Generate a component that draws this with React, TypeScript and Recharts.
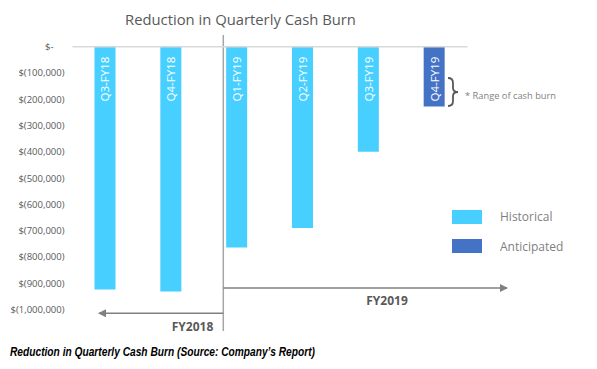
import React from "react";
import {
  Bar,
  BarChart,
  Customized,
  LabelList,
  Legend,
  ReferenceLine,
  XAxis,
  YAxis,
} from "recharts";

// values (negative = cash burned)
const quarters = ["Q3-FY18", "Q4-FY18", "Q1-FY19", "Q2-FY19", "Q3-FY19", "Q4-FY19"];
const historical = [-925000, -932000, -765000, -690000, -400000, null];
const anticipated = [null, null, null, null, null, -228000];
const yTicks = [
  0, -100000, -200000, -300000, -400000, -500000, -600000, -700000, -800000, -900000, -1000000,
];
const legendOrder = ["Historical", "Anticipated"];

const data = quarters.map((name, i) => ({
  name,
  historical: historical[i],
  anticipated: anticipated[i],
}));

const FONT = "'Open Sans', sans-serif";
const GREY = "#595959";

const fmtMoney = (v: number) =>
  v === 0 ? "$-" : `$(${Math.abs(v).toLocaleString("en-US")})`;

const YTick = (props: any) => {
  const { x, y, payload } = props;
  return (
    <text
      x={payload.value === 0 ? x - 11 : x}
      y={y}
      dy={3.5}
      textAnchor="end"
      fontSize={9.5}
      fontFamily={FONT}
      fill={GREY}
    >
      {fmtMoney(payload.value)}
    </text>
  );
};

const BarName = (props: any) => {
  const { x, y, width, height, value } = props;
  if (!height || Math.abs(height) < 1) return null;
  const top = Math.min(y, y + height);
  const cx = x + width / 2;
  const cy = top + 10;
  return (
    <text
      x={cx}
      y={cy}
      transform={`rotate(-90 ${cx} ${cy})`}
      textAnchor="end"
      dominantBaseline="central"
      fontSize={11.5}
      fontFamily={FONT}
      fill="#ffffff"
    >
      {value}
    </text>
  );
};

const LegendBox = (props: any) => {
  const items = [...(props.payload || [])].sort(
    (a: any, b: any) => legendOrder.indexOf(a.value) - legendOrder.indexOf(b.value)
  );
  return (
    <div style={{ fontFamily: FONT }}>
      {items.map((p: any) => (
        <div
          key={p.value}
          style={{ display: "flex", alignItems: "center", height: 29.5 }}
        >
          <span
            style={{
              display: "inline-block",
              width: 30,
              height: 14,
              background: p.color,
              marginRight: 18,
            }}
          />
          <span style={{ fontSize: 12, color: "#7f7f7f" }}>{p.value}</span>
        </div>
      ))}
    </div>
  );
};

// title, fiscal-year dividers, brace note and caption
const Annotations = () => (
  <g fontFamily={FONT}>
    <text x={240.5} y={25} textAnchor="middle" fontSize={14.8} fill={GREY}>
      Reduction in Quarterly Cash Burn
    </text>
    <defs>
      <marker id="arr" markerWidth="8" markerHeight="8" refX="7" refY="4" orient="auto" markerUnits="userSpaceOnUse">
        <path d="M0,0 L8,4 L0,8 Z" fill="#808080" />
      </marker>
    </defs>
    <line x1={223.3} y1={35} x2={223.3} y2={331} stroke="#a6a6a6" strokeWidth={1.5} />
    <line x1={223.3} y1={288} x2={507} y2={288} stroke="#808080" strokeWidth={1.5} markerEnd="url(#arr)" />
    <line x1={223.3} y1={313.3} x2={99} y2={313.3} stroke="#808080" strokeWidth={1.5} markerEnd="url(#arr)" />
    <text x={387} y={305} textAnchor="middle" fontSize={12} fontWeight="bold" fill={GREY}>
      FY2019
    </text>
    <text x={192.5} y={330.5} textAnchor="middle" fontSize={12} fontWeight="bold" fill={GREY}>
      FY2018
    </text>
    <path
      d="M448,78 Q453,78 453,83 L453,88 Q453,92 458,92 Q453,92 453,96 L453,101 Q453,106 448,106"
      fill="none"
      stroke="#595959"
      strokeWidth={1.8}
    />
    <text x={465} y={98.5} fontSize={9.3} fill="#7f7f7f">
      * Range of cash burn
    </text>
    <text
      x={10}
      y={356}
      fontSize={12.5}
      fontWeight="bold"
      fontStyle="italic"
      fontFamily="'Liberation Sans Narrow', 'Liberation Sans', sans-serif"
      fill="#000"
      textLength={305}
      lengthAdjust="spacingAndGlyphs"
    >
      Reduction in Quarterly Cash Burn (Source: Company’s Report)
    </text>
  </g>
);

export default function App() {
  return (
    <div style={{ position: "absolute", left: 0, top: 0, width: 597, height: 369, background: "#fff" }}>
      <BarChart
        width={597}
        height={369}
        data={data}
        margin={{ top: 46.7, right: 129.5, bottom: 59.7, left: 12.5 }}
      >
        <XAxis dataKey="name" hide />
        <YAxis
          type="number"
          domain={[-1000000, 0]}
          ticks={yTicks}
          width={60}
          axisLine={false}
          tickLine={false}
          tick={<YTick />}
          interval={0}
        />
        <ReferenceLine y={0} stroke="#d9d9d9" strokeWidth={1.5} />
        <Legend
          layout="vertical"
          align="center"
          verticalAlign="middle"
          content={<LegendBox />}
          wrapperStyle={{ left: 452, top: 202, width: 140 }}
        />
        <Bar dataKey="historical" name="Historical" stackId="q" fill="#47CFFF" barSize={21} isAnimationActive={false}>
          <LabelList dataKey="name" content={<BarName />} />
        </Bar>
        <Bar dataKey="anticipated" name="Anticipated" stackId="q" fill="#4472C4" barSize={21} isAnimationActive={false}>
          <LabelList dataKey="name" content={<BarName />} />
        </Bar>
        <Customized component={Annotations} />
      </BarChart>
    </div>
  );
}
